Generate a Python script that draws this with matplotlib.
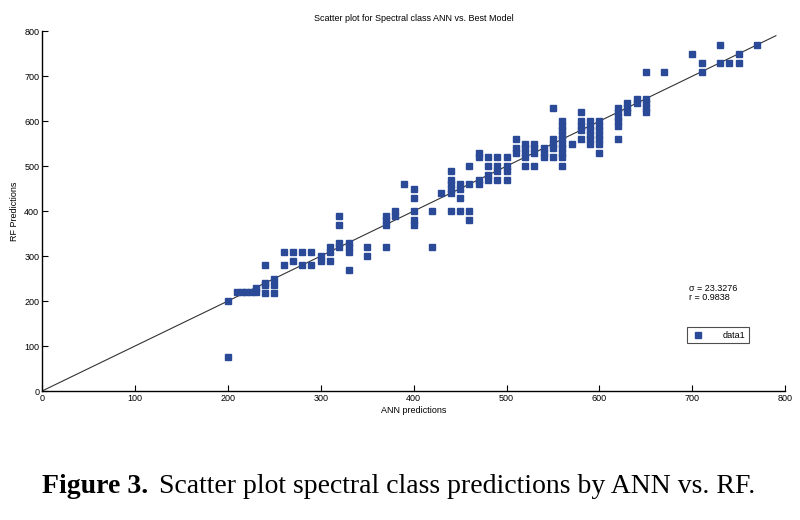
import matplotlib
matplotlib.use("Agg")
import matplotlib.pyplot as plt
import numpy as np

# ANN prediction (x) and RF prediction (y), grouped by column
ann_cols = [200, 210, 215, 220, 225, 230, 240, 250, 260, 270, 280, 290, 300, 310,
            320, 330, 350, 370, 380, 390, 400, 420, 430, 440, 450, 460, 470, 480,
            490, 500, 510, 520, 530, 540, 550, 560, 570, 580, 590, 600, 620, 630,
            640, 650, 670, 700, 710, 730, 740, 750, 770]
rf_cols = [
    [76, 200], [220], [220], [220], [220], [220, 230],
    [280, 240, 235, 218], [250, 235, 218], [310, 280], [310, 290], [310, 280],
    [310, 280], [290, 300], [310, 320, 290], [390, 370, 330, 320],
    [330, 320, 310, 270], [320, 300], [390, 380, 370, 320], [400, 390], [460],
    [450, 430, 400, 380, 370], [400, 320], [440], [490, 470, 460, 450, 440, 400],
    [460, 450, 430, 400], [500, 460, 400, 380], [530, 520, 470, 460],
    [520, 500, 480, 470], [520, 500, 490, 470], [520, 500, 490, 470],
    [560, 540, 530], [550, 540, 530, 520, 500], [550, 540, 530, 500],
    [540, 530, 520], [630, 560, 550, 540, 520],
    [600, 590, 580, 570, 560, 550, 540, 530, 520, 500], [550],
    [620, 600, 590, 580, 560], [600, 590, 580, 570, 560, 550],
    [600, 590, 580, 570, 560, 550, 530], [630, 620, 610, 600, 590, 560],
    [640, 630, 620], [650, 640], [710, 650, 640, 630, 620], [710], [750],
    [730, 710], [770, 730], [730], [750, 730], [770],
]
line_x = [0, 790]
line_y = [0, 790]
sigma_txt = "\u03c3 = 23.3276"
r_txt = "r = 0.9838"

ann = []
rf = []
for x, ys in zip(ann_cols, rf_cols):
    for y in ys:
        ann.append(x)
        rf.append(y)

plt.rcParams['font.family'] = ['Liberation Sans Narrow', 'Liberation Sans', 'DejaVu Sans']

fig = plt.figure(figsize=(8, 5.2), dpi=100)
ax = fig.add_axes([0.0525, 0.248, 0.929, 0.692])

ax.plot(line_x, line_y, color='#333333', lw=0.8, zorder=1)
ax.plot(ann, rf, 's', color='#2a4a98', ms=4.8, mec='#2a4a98', lw=0,
        label='data1', zorder=2)

ax.set_xlim(0, 800)
ax.set_ylim(0, 800)
ax.set_xticks(np.arange(0, 801, 100))
ax.set_yticks(np.arange(0, 801, 100))
ax.tick_params(direction='in', length=4, width=0.8, labelsize=6.5, pad=2)
for s in ['top', 'right']:
    ax.spines[s].set_visible(False)
ax.spines['left'].set_linewidth(1.0)
ax.spines['bottom'].set_linewidth(1.0)

ax.set_title("Scatter plot for Spectral class ANN vs. Best Model", fontsize=6.5, pad=7)
ax.set_xlabel("ANN predictions", fontsize=6.5, labelpad=2)
ax.set_ylabel("RF Predictions", fontsize=6.5, labelpad=4)

ax.text(0.870, 0.297, sigma_txt + "\n" + r_txt, transform=ax.transAxes,
        fontsize=6.5, va='top', ha='left', linespacing=1.0)

leg = ax.legend(loc='upper left', bbox_to_anchor=(0.862, 0.19), fontsize=6.5,
                frameon=True, fancybox=False, borderpad=0.4, handletextpad=2.0,
                markerscale=0.9, handlelength=1.5)
leg.get_frame().set_edgecolor('#222222')
leg.get_frame().set_linewidth(0.8)

# caption
cap_y = 1 - 493 / 520
t1 = fig.text(42 / 800, cap_y, "Figure 3.", fontsize=20, fontweight='bold',
              family=['Liberation Serif', 'DejaVu Serif'], va='baseline')
fig.canvas.draw()
bb = t1.get_window_extent(renderer=fig.canvas.get_renderer())
fig.text(bb.x1 / 800 + 0.014, cap_y,
         "Scatter plot spectral class predictions by ANN vs. RF.",
         fontsize=20, family=['Liberation Serif', 'DejaVu Serif'], va='baseline')

fig.savefig("out.png", dpi=100)
